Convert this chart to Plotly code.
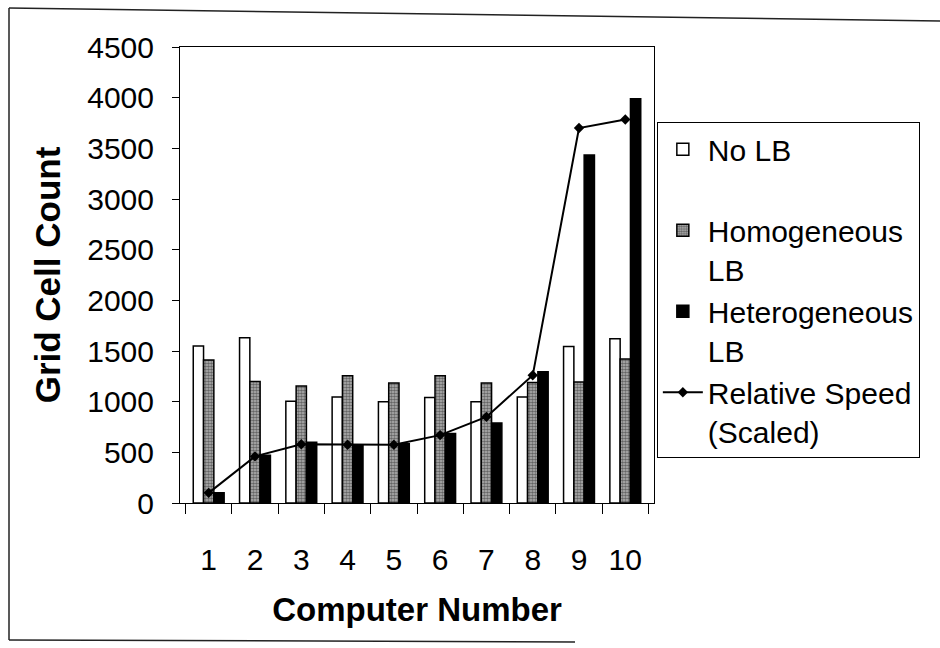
import plotly.graph_objects as go

# Grid cells held by each computer under three load-balancing schemes
computers = ["1", "2", "3", "4", "5", "6", "7", "8", "9", "10"]
no_lb = [1550, 1630, 1005, 1045, 1000, 1040, 1000, 1045, 1545, 1620]
homogeneous_lb = [1410, 1200, 1155, 1255, 1185, 1255, 1185, 1190, 1195, 1420]
heterogeneous_lb = [100, 470, 600, 575, 585, 685, 790, 1295, 3435, 3990]
relative_speed = [100, 460, 580, 575, 575, 670, 850, 1260, 3700, 3785]

y_ticks = [0, 500, 1000, 1500, 2000, 2500, 3000, 3500, 4000, 4500]

FONT = "Liberation Sans, Arial, Helvetica, sans-serif"
outline = dict(color="black", width=1.5)

fig = go.Figure()
fig.add_trace(go.Bar(
    x=computers, y=no_lb, name="No LB<br> ",
    marker=dict(color="white", line=outline),
))
fig.add_trace(go.Bar(
    x=computers, y=homogeneous_lb, name="Homogeneous<br>LB",
    marker=dict(color="#b8b8b8", line=outline,
                pattern=dict(shape=".", fgcolor="#111111", size=3, solidity=0.6)),
))
fig.add_trace(go.Bar(
    x=computers, y=heterogeneous_lb, name="Heterogeneous<br>LB",
    marker=dict(color="black", line=outline),
))
fig.add_trace(go.Scatter(
    x=computers, y=relative_speed, name="Relative Speed<br>(Scaled)",
    mode="lines+markers",
    line=dict(color="black", width=2),
    marker=dict(symbol="diamond", size=8, color="black"),
))

fig.update_layout(
    width=940, height=648,
    margin=dict(l=180, r=286, t=47, b=145),
    paper_bgcolor="white", plot_bgcolor="white",
    font=dict(family=FONT, color="black"),
    barmode="group", bargap=0.333, bargroupgap=0,
    showlegend=True,
    legend=dict(
        x=1.006, y=0.835, xanchor="left", yanchor="top",
        bordercolor="black", borderwidth=1,
        font=dict(size=30, family=FONT),
        valign="top", tracegroupgap=0, itemwidth=40,
        bgcolor="white",
    ),
)

fig.update_xaxes(
    type="category", tickson="boundaries",
    ticks="outside", ticklen=10, tickcolor="black", tickwidth=1,
    showline=True, linecolor="black", linewidth=1, mirror=True,
    showgrid=False, ticklabelstandoff=30,
    tickfont=dict(size=30),
    title=dict(text="<b>Computer Number</b>", font=dict(size=33), standoff=22),
)
fig.update_yaxes(
    range=[0, 4500], tickvals=y_ticks,
    ticks="outside", ticklen=7, tickcolor="black", tickwidth=1,
    showline=True, linecolor="black", linewidth=1, mirror=True,
    showgrid=False, zeroline=False, ticklabelstandoff=12,
    tickfont=dict(size=30),
    title=dict(text="<b>Grid Cell Count</b>", font=dict(size=35), standoff=16),
)

# Frame around the whole chart
frame = dict(type="line", xref="paper", yref="paper", line=dict(color="#222", width=1.5))
def px_x(v):
    return (v - 180) / 474
def px_y(v):
    return (503 - v) / 456
fig.add_shape(**frame, x0=px_x(9), x1=px_x(940), y0=px_y(8), y1=px_y(21))
fig.add_shape(**frame, x0=px_x(9), x1=px_x(9), y0=px_y(8), y1=px_y(640))
fig.add_shape(**frame, x0=px_x(9), x1=px_x(575), y0=px_y(640), y1=px_y(642))

fig.write_html("out.html")
